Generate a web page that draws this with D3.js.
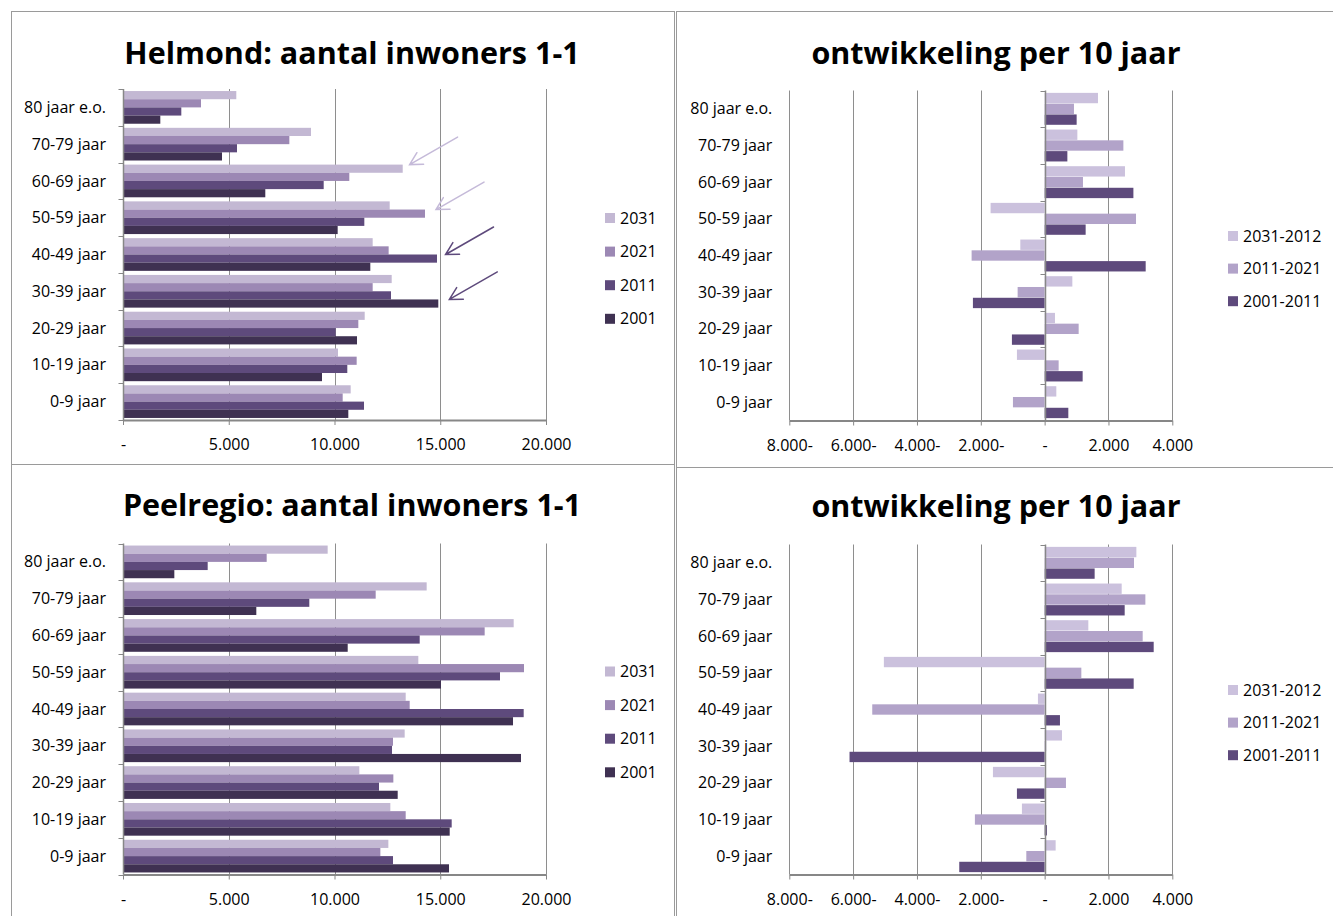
<!DOCTYPE html>
<html>
<head>
<meta charset="utf-8">
<script src="https://cdn.jsdelivr.net/npm/d3@7"></script>
<style>
  html, body { margin: 0; padding: 0; background: #fff; }
  svg { display: block; }
  text { font-family: "Open Sans", "DejaVu Sans", sans-serif; fill: #000; }
</style>
</head>
<body>
<svg id="chart" width="1333" height="916"></svg>
<script>
// ---------- DATA ----------
const categories = ["80 jaar e.o.", "70-79 jaar", "60-69 jaar", "50-59 jaar", "40-49 jaar",
                    "30-39 jaar", "20-29 jaar", "10-19 jaar", "0-9 jaar"];

const yearSeries = ["2031", "2021", "2011", "2001"];
const diffSeries = ["2031-2012", "2011-2021", "2001-2011"];

// Helmond: aantal inwoners 1-1
const helmond2031 = [5357, 8889, 13225, 12610, 11805, 12704, 11428, 10165, 10765];
const helmond2021 = [3688, 7865, 10700, 14279, 12560, 11805, 11126, 11048, 10387];
const helmond2011 = [2757, 5390, 9489, 11410, 14846, 12671, 10055, 10605, 11395];
const helmond2001 = [1764, 4681, 6728, 10150, 11693, 14908, 11064, 9409, 10653];

// Helmond: ontwikkeling per 10 jaar
const helmondD2031_2012 = [1671, 1025, 2517, -1693, -762, 868, 324, -868, 366];
const helmondD2011_2021 = [919, 2467, 1201, 2863, -2288, -846, 1066, 439, -993];
const helmondD2001_2011 = [1003, 712, 2781, 1285, 3166, -2247, -1025, 1191, 742];

// Peelregio: aantal inwoners 1-1
const peel2031 = [9677, 14358, 18472, 13963, 13366, 13318, 11174, 12640, 12546];
const peel2021 = [6793, 11947, 17100, 18960, 13555, 12766, 12782, 13366, 12168];
const peel2011 = [4004, 8809, 14028, 17825, 18945, 12719, 12104, 15541, 12766];
const peel2001 = [2427, 6303, 10624, 15035, 18440, 18818, 12988, 15447, 15414];

// Peelregio: ontwikkeling per 10 jaar
const peelD2031_2012 = [2874, 2414, 1369, -5037, -210, 543, -1620, -712, 345];
const peelD2011_2021 = [2800, 3156, 3072, 1150, -5401, 50, 668, -2185, -574];
const peelD2001_2011 = [1567, 2508, 3417, 2790, 480, -6113, -868, 72, -2675];

// Tick values
const absTicks = [0, 5000, 10000, 15000, 20000];
const diffTicks = [-8000, -6000, -4000, -2000, 0, 2000, 4000];

// Arrow annotations (Helmond chart): bar they point at, and tip value
const arrowCats   = ["60-69 jaar", "50-59 jaar", "40-49 jaar", "30-39 jaar"];
const arrowSeries = ["2031", "2021", "2011", "2001"];
const arrowTips   = [13550, 14800, 15250, 15430];

// ---------- STYLE ----------
const yearColors = {"2031": "#c3b8d3", "2021": "#9c88b4", "2011": "#5e4a7c", "2001": "#3f3152"};
const diffColors = {"2031-2012": "#cbc1dd", "2011-2021": "#b2a3c9", "2001-2011": "#5e4a7c"};
const arrowColors = ["#c5bad9", "#c5bad9", "#5e4a7c", "#5e4a7c"];
const gridColor = "#8e8e8e";
const axisColor = "#878787";
const labelSize = 16;
const titleSize = 30.5;

const nl = d3.formatLocale({decimal: ",", thousands: ".", grouping: [3], currency: ["", ""]});
const fmtN = nl.format(",.0f");
const tickFmt = v => v === 0 ? "-" : fmtN(Math.abs(v)) + (v < 0 ? "-" : "");

const svg = d3.select("#chart");

// ---------- PANEL FRAMES ----------
const frame = svg.append("g").attr("fill", "none").attr("stroke", "#9a9a9a").attr("stroke-width", 1);
frame.append("rect").attr("x", 11.5).attr("y", 11.5).attr("width", 663).attr("height", 453);
frame.append("rect").attr("x", 11.5).attr("y", 464.5).attr("width", 663).attr("height", 470);
frame.append("rect").attr("x", 676.5).attr("y", 11.5).attr("width", 680).attr("height", 456);
frame.append("rect").attr("x", 676.5).attr("y", 467.5).attr("width", 680).attr("height", 470);

// ---------- PANEL DRAWER ----------
function drawPanel(cfg) {
  const g = svg.append("g");
  const y = d3.scaleBand().domain(categories).range([cfg.y0, cfg.y1]);
  const x = d3.scaleLinear().domain(cfg.domain).range(cfg.range);
  const ys = d3.scaleBand().domain(cfg.series.map(s => s.name))
               .range([0, y.bandwidth()]).paddingOuter(cfg.padOuter).paddingInner(cfg.padInner);

  // title
  g.append("text").attr("x", cfg.titleX).attr("y", cfg.titleY)
    .attr("text-anchor", "middle").attr("font-size", titleSize).attr("font-weight", "bold")
    .text(cfg.title);

  // gridlines
  const gridVals = cfg.ticks.filter(t => t !== 0);
  g.append("g").selectAll("line").data(gridVals).join("line")
    .attr("x1", d => Math.round(x(d)) + 0.5).attr("x2", d => Math.round(x(d)) + 0.5)
    .attr("y1", cfg.y0).attr("y2", cfg.y1)
    .attr("stroke", gridColor).attr("stroke-width", 1);

  // bars
  cfg.series.forEach(s => {
    g.append("g").selectAll("rect").data(s.values).join("rect")
      .attr("x", d => x(Math.min(0, d)))
      .attr("width", d => Math.abs(x(d) - x(0)))
      .attr("y", (d, i) => y(categories[i]) + ys(s.name))
      .attr("height", ys.bandwidth())
      .attr("fill", s.color);
  });

  // bottom axis
  const ax = g.append("g").attr("transform", `translate(0,${cfg.y1})`)
    .call(d3.axisBottom(x).tickValues(cfg.ticks).tickFormat(tickFmt)
            .tickSize(5).tickSizeOuter(0).tickPadding(14));
  ax.select(".domain").attr("stroke", axisColor).attr("stroke-width", 2);
  ax.selectAll(".tick line").attr("stroke", axisColor);
  ax.selectAll(".tick text").attr("font-size", labelSize).attr("fill", "#000")
    .attr("font-family", '"Open Sans", sans-serif');

  // category axis at zero
  const x0 = Math.round(x(0)) + 0.5;
  g.append("line").attr("x1", x0).attr("x2", x0).attr("y1", cfg.y0).attr("y2", cfg.y1)
    .attr("stroke", axisColor).attr("stroke-width", 1.5);
  const bounds = categories.map(c => y(c)).concat([cfg.y1]);
  g.append("g").selectAll("line").data(bounds).join("line")
    .attr("x1", x0 - 5).attr("x2", x0).attr("y1", d => Math.round(d) + 0.5).attr("y2", d => Math.round(d) + 0.5)
    .attr("stroke", axisColor).attr("stroke-width", 1);

  // category labels
  g.append("g").selectAll("text").data(categories).join("text")
    .attr("x", x(cfg.domain[0]) - 17)
    .attr("y", d => y(d) + y.bandwidth() / 2)
    .attr("dy", "0.35em")
    .attr("text-anchor", "end").attr("font-size", labelSize)
    .text(d => d);

  // legend
  const lg = g.append("g");
  cfg.series.forEach((s, i) => {
    const cy = cfg.legendY + i * cfg.legendStep;
    lg.append("rect").attr("x", cfg.legendX).attr("y", cy - 5).attr("width", 10).attr("height", 10)
      .attr("fill", s.color);
    lg.append("text").attr("x", cfg.legendX + 15).attr("y", cy).attr("dy", "0.35em")
      .attr("font-size", labelSize).text(s.name);
  });

  return {g, x, y, ys};
}

const absCommon = {domain: [0, 20000], range: [123, 546], ticks: absTicks,
                   padOuter: 0.25, padInner: 0, legendX: 605, legendStep: 33.6,
                   titleX: 352};
const diffCommon = {domain: [-8000, 4000], range: [789.3, 1172.3], ticks: diffTicks,
                    padOuter: 0.22, padInner: 0.04, legendX: 1228, legendStep: 32.6,
                    titleX: 996};

const yearSet = (a, b, c, d) => [
  {name: "2031", values: a, color: yearColors["2031"]},
  {name: "2021", values: b, color: yearColors["2021"]},
  {name: "2011", values: c, color: yearColors["2011"]},
  {name: "2001", values: d, color: yearColors["2001"]}
];
const diffSet = (a, b, c) => [
  {name: "2031-2012", values: a, color: diffColors["2031-2012"]},
  {name: "2011-2021", values: b, color: diffColors["2011-2021"]},
  {name: "2001-2011", values: c, color: diffColors["2001-2011"]}
];

const p1 = drawPanel(Object.assign({}, absCommon, {
  y0: 89, y1: 420, title: "Helmond: aantal inwoners 1-1", titleY: 64, legendY: 218,
  series: yearSet(helmond2031, helmond2021, helmond2011, helmond2001)}));

drawPanel(Object.assign({}, diffCommon, {
  y0: 90.5, y1: 420.5, title: "ontwikkeling per 10 jaar", titleY: 64, legendY: 236,
  series: diffSet(helmondD2031_2012, helmondD2011_2021, helmondD2001_2011)}));

drawPanel(Object.assign({}, absCommon, {
  y0: 543.5, y1: 874.5, title: "Peelregio: aantal inwoners 1-1", titleY: 516, legendY: 671.5,
  series: yearSet(peel2031, peel2021, peel2011, peel2001)}));

drawPanel(Object.assign({}, diffCommon, {
  y0: 544.5, y1: 874.5, title: "ontwikkeling per 10 jaar", titleY: 517, legendY: 690,
  series: diffSet(peelD2031_2012, peelD2011_2021, peelD2001_2011)}));

// ---------- ARROWS ----------
const ag = p1.g.append("g").attr("fill", "none").attr("stroke-width", 1.5).attr("stroke-linecap", "round");
arrowTips.forEach((v, i) => {
  const tx = p1.x(v);
  const ty = p1.y(arrowCats[i]) + p1.ys(arrowSeries[i]);
  const sx = tx + 48, sy = ty - 27.5;
  const ang = Math.atan2(sy - ty, sx - tx);
  const L = 14, spread = 0.5;
  const p = d3.path();
  p.moveTo(sx, sy); p.lineTo(tx, ty);
  p.moveTo(tx + L * Math.cos(ang - spread), ty + L * Math.sin(ang - spread));
  p.lineTo(tx, ty);
  p.lineTo(tx + L * Math.cos(ang + spread), ty + L * Math.sin(ang + spread));
  ag.append("path").attr("d", p.toString()).attr("stroke", arrowColors[i]);
});
</script>
</body>
</html>
